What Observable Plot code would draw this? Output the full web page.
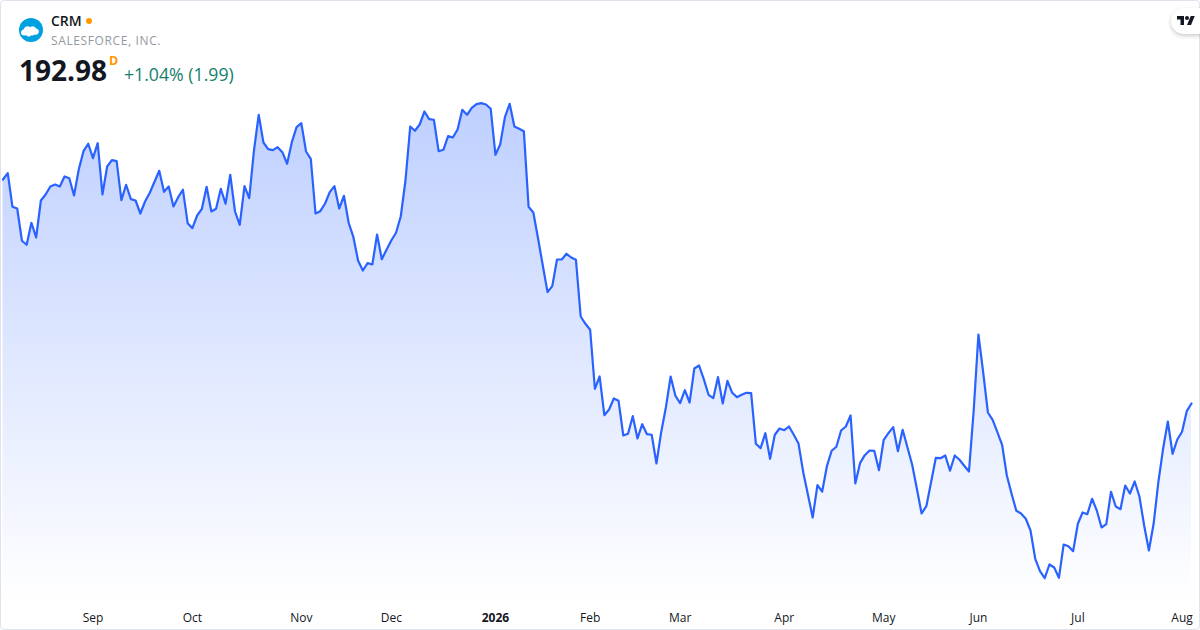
<!DOCTYPE html>
<html>
<head>
<meta charset="utf-8">
<script src="https://cdn.jsdelivr.net/npm/d3@7"></script>
<script src="https://cdn.jsdelivr.net/npm/@observablehq/plot@0.6"></script>
<style>
html,body{margin:0;padding:0;background:#fff;}
body{width:1200px;height:630px;overflow:hidden;font-family:"Open Sans",sans-serif;}
#wrap{position:relative;width:1200px;height:630px;overflow:hidden;}
#wrap svg{display:block;}
#frame{position:absolute;left:0;top:0;width:1198px;height:628px;border:1px solid #e0e3eb;border-radius:4px;pointer-events:none;}
.h{position:absolute;white-space:nowrap;line-height:1;}
#logo{position:absolute;left:19px;top:18px;width:24px;height:24px;}
#dot{position:absolute;left:85.5px;top:17.5px;width:6px;height:6px;border-radius:50%;background:#ff9800;}
#pill{position:absolute;left:1171px;top:8px;width:40px;height:26px;border-radius:13px;background:#fff;box-shadow:0 2px 4px rgba(0,0,0,.2);}
#tv{position:absolute;left:1177px;top:14px;width:18px;height:14px;}
</style>
</head>
<body>
<div id="wrap">
  <div id="chart"></div>
  <div id="frame"></div>
  <svg id="logo" viewBox="0 0 24 24"><circle cx="12" cy="12" r="12" fill="#00a1e0"/><g transform="translate(12 13) scale(1.25) translate(-13 -13.2)"><path d="M5 14.6c0-1.5 1-2.6 2.3-2.8.3-1.4 1.5-2.4 3-2.4.8 0 1.5.3 2 .8.5-.5 1.2-.8 2-.8 1.2 0 2.2.7 2.6 1.7 1.4.1 2.4 1.2 2.4 2.5 0 1.4-1.1 2.5-2.5 2.5-.4 0-.7-.1-1-.2-.4.5-1 .8-1.7.8-.4 0-.7-.1-1-.2-.4.7-1.100 1.100-1.900 1.100-.8 0-1.500-.4-1.900-1-.3.1-.5.1-.8.1C6.100 17 5 15.900 5 14.600z" fill="#fff"/></g></svg>
  <div class="h" style="left:51px;top:14px;font-size:14px;font-weight:600;color:#131722;">CRM</div>
  <div id="dot"></div>
  <div class="h" style="left:51px;top:35px;font-size:12px;letter-spacing:.62px;color:#9598a1;">SALESFORCE, INC.</div>
  <div class="h" style="left:19px;top:56px;font-size:28px;font-weight:700;color:#131722;">192.98</div>
  <div class="h" style="left:109px;top:55px;font-size:12.500px;font-weight:700;color:#ff9800;">D</div>
  <div class="h" style="left:124px;top:66px;font-size:17.700px;color:#15806e;">+1.04% (1.99)</div>
  <div id="pill"></div>
  <svg id="tv" viewBox="0 0 36 28"><path d="M14 22H7V11H0V4h14v18ZM28 22h-8l7.500-18h8L28 22Z" fill="#131722"/><circle cx="20" cy="8" r="4" fill="#131722"/></svg>
</div>
<script>
const closes = [
248.98,250.56,242.15,241.73,233.66,232.66,238.16,234.48,243.73,245.23,
247.23,247.73,247.23,249.73,249.31,244.98,251.48,256.06,257.91,254.31,
258.06,245.23,252.23,253.81,253.56,243.81,247.66,244.06,243.73,240.48,
243.48,245.66,248.41,251.16,245.91,247.23,242.23,244.56,246.41,238.06,
236.81,239.98,241.66,247.16,240.98,241.66,246.66,242.91,250.16,240.98,
237.66,247.31,244.31,256.23,265.16,258.23,256.56,256.31,257.06,255.81,
252.91,258.31,262.06,263.06,255.98,254.16,240.48,241.06,242.91,245.81,
247.31,241.73,244.91,238.16,234.56,228.66,226.23,228.06,227.73,235.23,
229.06,231.41,233.73,235.66,239.73,248.73,262.23,261.16,262.73,265.98,
264.06,263.91,256.06,256.41,259.81,259.48,261.48,266.41,265.16,266.91,
267.81,268.06,267.73,266.66,255.16,257.73,264.56,267.91,262.23,261.66,
261.06,242.15,240.73,234.23,227.48,220.81,222.31,228.98,228.98,230.41,
229.48,228.91,214.73,212.91,211.41,196.66,199.73,190.06,191.48,194.23,
193.66,184.98,185.41,189.81,184.23,187.81,185.31,185.16,177.98,185.81,
192.06,199.73,194.91,193.06,196.31,193.23,201.73,202.48,199.06,195.16,
194.31,199.56,192.98,198.66,195.66,194.56,195.16,195.66,195.56,182.91,
181.81,185.56,179.16,185.16,186.73,186.31,187.23,185.16,182.98,175.81,
170.16,164.48,172.56,170.98,177.31,181.16,182.16,186.23,187.23,189.98,
172.98,178.06,180.06,181.23,181.16,176.31,183.91,185.56,187.06,181.06,
186.41,182.06,177.73,171.66,165.48,167.31,173.31,179.41,179.31,179.98,
176.16,179.98,178.91,177.41,175.98,191.23,210.23,200.81,190.73,188.91,
185.81,182.66,174.98,170.41,166.16,165.48,164.16,161.23,154.16,151.06,
149.31,152.73,151.98,149.41,157.73,157.31,156.06,162.91,165.73,165.31,
169.16,166.23,161.98,162.81,170.91,167.23,166.56,172.48,170.48,173.48,
169.73,162.48,156.23,162.91,173.31,181.66,188.48,180.41,183.98,185.91,
191.06,192.98
];
const monthLabels = ["Sep","Oct","Nov","Dec","Feb","Mar","Apr","May","Jun","Jul","Aug"];
const monthSessions = [19,40,63,82,124,143,165,186,206,227,249];
const yearLabels = ["2026"];
const yearSessions = [104];
const baselinePrice = 143.2;

const rows = closes.map((close, session) => ({session, close}));
const labelOf = new Map([...monthSessions.map((s,i)=>[s,monthLabels[i]]), ...yearSessions.map((s,i)=>[s,yearLabels[i]])]);

const gradient = () => {
  const svg = d3.create("svg:defs");
  const g = svg.append("linearGradient").attr("id","fade").attr("x1",0).attr("y1",0).attr("x2",0).attr("y2",1);
  g.append("stop").attr("offset","0%").attr("stop-color","#2962ff").attr("stop-opacity",0.3);
  g.append("stop").attr("offset","100%").attr("stop-color","#2962ff").attr("stop-opacity",0);
  return svg.node();
};

const axisStyle = {anchor:"bottom", tickSize:0, tickPadding:0, label:null, tickFormat:d=>labelOf.get(d), fontSize:12, fill:"#131722", dy:-17};

const plot = Plot.plot({
  width:1200, height:630,
  marginTop:0, marginRight:0, marginBottom:0, marginLeft:0,
  style:{fontFamily:"'Open Sans',sans-serif", background:"transparent", overflow:"hidden"},
  x:{type:"linear", domain:[-0.528,252.9], range:[0,1200]},
  y:{type:"linear", domain:[136.23,293.73], range:[630,0]},
  marks:[
    gradient,
    Plot.areaY(rows,{x:"session", y1:()=>baselinePrice, y2:"close", fill:"url(#fade)"}),
    Plot.lineY(rows,{x:"session", y:"close", stroke:"#2962ff", strokeWidth:2.2, strokeLinejoin:"round"}),
    Plot.axisX(monthSessions,{...axisStyle}),
    Plot.axisX(yearSessions,{...axisStyle, fontWeight:700}),
    Plot.axisY({ticks:[], label:null, tickSize:0})
  ]
});
document.getElementById("chart").append(plot);
</script>
</body>
</html>
